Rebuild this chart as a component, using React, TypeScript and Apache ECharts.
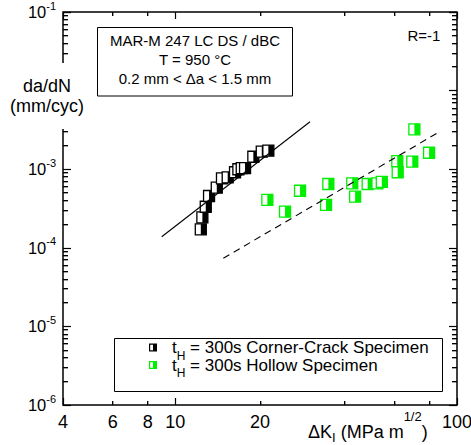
import React, { useEffect, useRef } from 'react';
import * as echarts from 'echarts';

// ---- data ----
const cornerCrackDK = [12.33, 12.49, 12.84, 13.19, 14.05, 14.66, 15.36, 16.31, 16.76, 17.23, 17.7, 18.94, 20.29, 21.41];
const cornerCrackRate = [1.72e-4, 2.44e-4, 3.33e-4, 4.56e-4, 5.82e-4, 7.66e-4, 7.89e-4, 9.14e-4, 9.98e-4, 1.03e-3, 1.03e-3, 1.44e-3, 1.67e-3, 1.72e-3];

const hollowDK = [21.24, 24.54, 27.74, 34.96, 34.31, 42.5, 43.5, 48.2, 52.2, 54.1, 61.4, 61.6, 69.4, 70.6, 79.6];
const hollowRate = [4.06e-4, 2.88e-4, 5.32e-4, 6.48e-4, 3.51e-4, 6.62e-4, 4.47e-4, 6.48e-4, 6.62e-4, 6.88e-4, 1.27e-3, 9.14e-4, 1.25e-3, 3.22e-3, 1.62e-3];

const fitSolidDK = [8.96, 30.1];
const fitSolidRate = [1.38e-4, 4.02e-3];
const fitDashedDK = [14.82, 84.8];
const fitDashedRate = [7.35e-5, 2.86e-3];

const X_MIN = 4;
const X_MAX = 100;
const Y_MIN = 1e-6;
const Y_MAX = 1e-1;
const xTickLabels = [4, 6, 8, 10, 20, 100];
const xMinorTicks = [6, 8, 20, 40, 60, 80];
const yDecades = [1e-6, 1e-5, 1e-4, 1e-3, 1e-2, 1e-1];
const yTickLabels = [1e-6, 1e-5, 1e-4, 1e-3, 1e-1]; // 10^-2 sits behind the axis title
const yMinorMultipliers = [2, 3, 4, 5, 6, 7, 8, 9];
const yMinorTicks = yDecades.slice(0, -1).flatMap((d) => yMinorMultipliers.map((m) => m * d));

const seriesNames = ['Corner-Crack Specimen', 'Hollow Specimen'];
const BLACK = '#000000';
const GREEN = '#00ee00';
const FONT = "'Liberation Sans', Arial, Helvetica, sans-serif";
const TICK_W = 1.2;

const zip = (a: number[], b: number[]) => a.map((v, i) => [v, b[i]]);

function markerRenderer(color: string) {
  return (params: any, api: any) => {
    const p = api.coord([api.value(0), api.value(1)]);
    const s = 11;
    return {
      type: 'group',
      children: [
        { type: 'rect', shape: { x: p[0] - s / 2, y: p[1] - s / 2, width: s, height: s }, style: { fill: '#fff', stroke: color, lineWidth: 1.3 } },
        { type: 'rect', shape: { x: p[0], y: p[1] - s / 2, width: s / 2, height: s }, style: { fill: color } },
      ],
    };
  };
}

// minor inward tick marks on all four edges, anchored at an interior point of the other axis
const X_ANCHOR = Math.sqrt(X_MIN * X_MAX);
const Y_ANCHOR = Math.sqrt(Y_MIN * Y_MAX);
function tickSeries(values: number[], axis: 'x' | 'y', len: number) {
  return {
    type: 'custom', silent: true,
    data: values.map((v) => (axis === 'x' ? [v, Y_ANCHOR] : [X_ANCHOR, v])),
    encode: { x: 0, y: 1 },
    renderItem: (params: any, api: any) => {
      const p = api.coord([api.value(0), api.value(1)]);
      const bottom = api.coord([X_ANCHOR, Y_MIN])[1];
      const top = api.coord([X_ANCHOR, Y_MAX])[1];
      const left = api.coord([X_MIN, Y_ANCHOR])[0];
      const right = api.coord([X_MAX, Y_ANCHOR])[0];
      if (axis === 'x') {
        const x = Math.floor(p[0]);
        return {
          type: 'group',
          children: [
            { type: 'rect', shape: { x, y: bottom - len, width: TICK_W, height: len }, style: { fill: '#000' } },
            { type: 'rect', shape: { x, y: top, width: TICK_W, height: len }, style: { fill: '#000' } },
          ],
        };
      }
      const y = Math.floor(p[1]);
      return {
        type: 'group',
        children: [
          { type: 'rect', shape: { x: left, y, width: len, height: TICK_W }, style: { fill: '#000' } },
          { type: 'rect', shape: { x: right - len, y, width: len, height: TICK_W }, style: { fill: '#000' } },
        ],
      };
    },
  };
}

const MARKER_ICON = 'path://M0,0H10V10H0Z M1.5,1.5V8.5H5V1.5Z';

const baseGraphic: any[] = [
  // y-axis title (covers the frame behind it)
  { id: 'ytBg', type: 'rect', z: 50, shape: { x: 2, y: 63, width: 90, height: 66 }, style: { fill: '#fff' } },
  { id: 'yt1', type: 'text', z: 51, x: 47, y: 85.5, style: { text: 'da/dN', fontSize: 18, fontFamily: FONT, fill: '#000', align: 'center', verticalAlign: 'middle' } },
  { id: 'yt2', type: 'text', z: 51, x: 47, y: 106, style: { text: '(mm/cyc)', fontSize: 18, fontFamily: FONT, fill: '#000', align: 'center', verticalAlign: 'middle' } },
  // x-axis title
  {
    id: 'xt', type: 'text', z: 51, x: 308, y: 432,
    style: {
      text: '{n|ΔK}{sub|I}{n| (MPa m}{sup|1/2}{n|)}', align: 'left', verticalAlign: 'middle',
      rich: {
        n: { fontSize: 18, lineHeight: 44, fontFamily: FONT, fill: '#000', verticalAlign: 'middle' },
        sub: { fontSize: 13, lineHeight: 13, fontFamily: FONT, fill: '#000', verticalAlign: 'middle', padding: [10, 0, 0, 0] },
        sup: { fontSize: 13, lineHeight: 13, fontFamily: FONT, fill: '#000', verticalAlign: 'top' },
      },
    },
  },
  // annotation box
  { id: 'box', type: 'rect', z: 20, shape: { x: 97.5, y: 27.5, width: 195, height: 68.5 }, style: { fill: '#fff', stroke: '#000', lineWidth: 1 } },
  { id: 'b1', type: 'text', z: 21, x: 195, y: 40.5, style: { text: 'MAR-M 247 LC DS / dBC', fontSize: 15, fontFamily: FONT, fill: '#000', align: 'center', verticalAlign: 'middle' } },
  { id: 'b2', type: 'text', z: 21, x: 195, y: 59.5, style: { text: 'T = 950 °C', fontSize: 15, fontFamily: FONT, fill: '#000', align: 'center', verticalAlign: 'middle' } },
  { id: 'b3', type: 'text', z: 21, x: 195, y: 78.5, style: { text: '0.2 mm < Δa < 1.5 mm', fontSize: 15, fontFamily: FONT, fill: '#000', align: 'center', verticalAlign: 'middle' } },
  // R ratio
  { id: 'r', type: 'text', z: 21, x: 424, y: 35, style: { text: 'R=-1', fontSize: 15, fontFamily: FONT, fill: '#000', align: 'center', verticalAlign: 'middle' } },
  // legend frame
  { id: 'lg', type: 'rect', z: 1, shape: { x: 114.5, y: 338.5, width: 328, height: 53 }, style: { fill: '#fff', stroke: '#000', lineWidth: 1 } },
];

const majorTick = { show: true, inside: true, length: 7, lineStyle: { color: '#000', width: TICK_W } };

const option: any = {
  animation: false,
  backgroundColor: '#fff',
  grid: {
    left: 63, right: 14, top: 12, bottom: 40, containLabel: false, outerBoundsMode: 'none',
    show: true, borderColor: '#000', borderWidth: 1.5,
  },
  xAxis: [
    {
      type: 'log', logBase: 10, min: X_MIN, max: X_MAX, position: 'bottom',
      splitLine: { show: false }, axisLine: { show: false }, axisTick: majorTick,
      axisLabel: { show: true, customValues: xTickLabels, formatter: (v: number) => String(v), fontSize: 18, color: '#000', fontFamily: FONT, margin: 8 },
    },
    {
      type: 'log', logBase: 10, min: X_MIN, max: X_MAX, position: 'top',
      splitLine: { show: false }, axisLine: { show: false }, axisTick: majorTick, axisLabel: { show: false },
    },
  ],
  yAxis: [
    {
      type: 'log', logBase: 10, min: Y_MIN, max: Y_MAX, position: 'left',
      splitLine: { show: false }, axisLine: { show: false }, axisTick: { ...majorTick, length: 8 },
      axisLabel: {
        show: true, customValues: yTickLabels, margin: 7,
        formatter: (v: number) => `{b|10}{s|${Math.round(Math.log10(v))}}`,
        rich: {
          b: { fontSize: 16.5, lineHeight: 24, fontFamily: FONT, color: '#000', verticalAlign: 'middle' },
          s: { fontSize: 11, lineHeight: 11, fontFamily: FONT, color: '#000', verticalAlign: 'top' },
        },
      },
    },
    {
      type: 'log', logBase: 10, min: Y_MIN, max: Y_MAX, position: 'right',
      splitLine: { show: false }, axisLine: { show: false }, axisTick: { ...majorTick, length: 8 }, axisLabel: { show: false },
    },
  ],
  legend: {
    orient: 'vertical', left: 149, top: 339, padding: 0, itemGap: -5, itemWidth: 8, itemHeight: 8,
    selectedMode: false, z: 5,
    data: [
      { name: seriesNames[0], icon: MARKER_ICON },
      { name: seriesNames[1], icon: MARKER_ICON },
    ],
    formatter: (name: string) => `{g|}{a|t}{sub|H}{a| = 300s ${name}}`,
    textStyle: {
      fontFamily: FONT, fontSize: 17, color: '#000',
      rich: {
        g: { width: 10 },
        a: { fontSize: 17, lineHeight: 28, fontFamily: FONT, color: '#000', verticalAlign: 'middle' },
        sub: { fontSize: 12, lineHeight: 12, fontFamily: FONT, color: '#000', verticalAlign: 'bottom' },
      },
    },
  },
  series: [
    {
      type: 'line', xAxisIndex: 0, yAxisIndex: 0, data: zip(fitSolidDK, fitSolidRate), symbol: 'none', silent: true,
      lineStyle: { color: '#000', width: 1.1 },
    },
    {
      type: 'line', xAxisIndex: 0, yAxisIndex: 0, data: zip(fitDashedDK, fitDashedRate), symbol: 'none', silent: true,
      lineStyle: { color: '#000', width: 1.1, type: [7, 5] },
    },
    {
      name: seriesNames[0], type: 'custom', xAxisIndex: 0, yAxisIndex: 0, data: zip(cornerCrackDK, cornerCrackRate),
      encode: { x: 0, y: 1 }, itemStyle: { color: BLACK }, renderItem: markerRenderer(BLACK),
    },
    {
      name: seriesNames[1], type: 'custom', xAxisIndex: 0, yAxisIndex: 0, data: zip(hollowDK, hollowRate),
      encode: { x: 0, y: 1 }, itemStyle: { color: GREEN }, renderItem: markerRenderer(GREEN),
    },
    { ...tickSeries(xMinorTicks, 'x', 4), xAxisIndex: 0, yAxisIndex: 0 },
    { ...tickSeries(yMinorTicks, 'y', 5), xAxisIndex: 0, yAxisIndex: 0 },
  ],
  graphic: { elements: baseGraphic },
};

export default function App() {
  const ref = useRef<HTMLDivElement>(null);
  useEffect(() => {
    if (!ref.current) return;
    const chart = echarts.init(ref.current, null, { renderer: 'svg' });
    chart.setOption(option);

    // second pass: minor tick marks placed with the axes' own conversion (pixel-aligned)
    const px = (v: number) => chart.convertToPixel({ xAxisIndex: 0 } as any, v) as unknown as number;
    const py = (v: number) => chart.convertToPixel({ yAxisIndex: 0 } as any, v) as unknown as number;
    const left = px(X_MIN);
    const right = px(X_MAX);
    const top = py(Y_MAX);
    const bottom = py(Y_MIN);
    const ticks: any[] = [];
    if ([left, right, top, bottom].every((n) => typeof n === 'number' && isFinite(n))) {
      const addX = (v: number, len: number) => {
        const x = Math.floor(px(v));
        ticks.push({ type: 'rect', z: 10, silent: true, shape: { x, y: bottom - len, width: TICK_W, height: len }, style: { fill: '#000' } });
        ticks.push({ type: 'rect', z: 10, silent: true, shape: { x, y: top, width: TICK_W, height: len }, style: { fill: '#000' } });
      };
      const addY = (v: number, len: number) => {
        const y = Math.floor(py(v));
        ticks.push({ type: 'rect', z: 10, silent: true, shape: { x: left, y, width: len, height: TICK_W }, style: { fill: '#000' } });
        ticks.push({ type: 'rect', z: 10, silent: true, shape: { x: right - len, y, width: len, height: TICK_W }, style: { fill: '#000' } });
      };
      xMinorTicks.forEach((v) => addX(v, 4));
      yMinorTicks.forEach((v) => addY(v, 5));
      chart.setOption({ graphic: { elements: [...baseGraphic, ...ticks] } });
    }
    return () => chart.dispose();
  }, []);
  return (
    <div
      ref={ref}
      style={{ position: 'absolute', left: 0, top: 0, width: 471, height: 445, background: '#fff' }}
    />
  );
}
